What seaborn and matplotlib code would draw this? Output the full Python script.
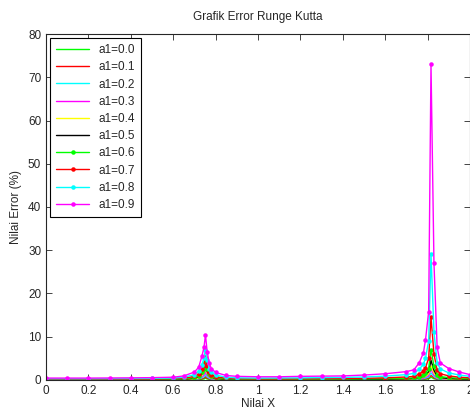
import numpy as np
import pandas as pd
import matplotlib
matplotlib.use("Agg")
import matplotlib.pyplot as plt
import seaborn as sns

# Nilai X (titik yang dibaca dari grafik)
x_vals = [0.0, 0.1, 0.2, 0.3, 0.4, 0.5, 0.6,
          0.65, 0.7, 0.72, 0.735, 0.745, 0.752, 0.76, 0.77, 0.78, 0.8, 0.85, 0.9,
          1.0, 1.1, 1.2, 1.3, 1.4, 1.5, 1.6, 1.7,
          1.735, 1.76, 1.78, 1.79, 1.805, 1.816, 1.83, 1.845, 1.86, 1.9, 1.95, 2.0]

# Error (%) untuk tiap a1
err_00 = [0.0, 0.0, 0.0, 0.0, 0.0, 0.0, 0.01,
          0.01, 0.03, 0.06, 0.12, 0.2, 0.4, 0.2, 0.1, 0.06, 0.03, 0.01, 0.01,
          0.0, 0.0, 0.0, 0.01, 0.01, 0.01, 0.02, 0.02,
          0.03, 0.05, 0.08, 0.12, 0.2, 0.6, 0.25, 0.09, 0.05, 0.03, 0.02, 0.02]
err_01 = [0.01, 0.01, 0.01, 0.01, 0.01, 0.01, 0.02,
          0.02, 0.06, 0.12, 0.25, 0.4, 0.7, 0.38, 0.2, 0.12, 0.05, 0.02, 0.02,
          0.01, 0.01, 0.01, 0.01, 0.02, 0.02, 0.03, 0.04,
          0.05, 0.1, 0.16, 0.25, 0.4, 1.0, 0.45, 0.16, 0.1, 0.05, 0.04, 0.03]
err_02 = [0.01, 0.01, 0.01, 0.01, 0.02, 0.02, 0.03,
          0.03, 0.1, 0.22, 0.45, 0.7, 1.2, 0.65, 0.35, 0.2, 0.09, 0.04, 0.03,
          0.02, 0.02, 0.02, 0.02, 0.03, 0.03, 0.05, 0.07,
          0.09, 0.16, 0.27, 0.4, 0.65, 1.6, 0.75, 0.27, 0.16, 0.09, 0.06, 0.05]
err_03 = [0.02, 0.02, 0.02, 0.02, 0.03, 0.03, 0.04,
          0.05, 0.17, 0.35, 0.7, 1.1, 1.8, 1.0, 0.55, 0.3, 0.14, 0.06, 0.04,
          0.03, 0.03, 0.03, 0.04, 0.04, 0.05, 0.07, 0.1,
          0.14, 0.25, 0.4, 0.6, 1.0, 2.4, 1.1, 0.4, 0.25, 0.14, 0.1, 0.07]
err_04 = [0.03, 0.03, 0.03, 0.03, 0.04, 0.05, 0.06,
          0.08, 0.25, 0.5, 1.0, 1.6, 2.6, 1.5, 0.8, 0.45, 0.2, 0.09, 0.06,
          0.04, 0.04, 0.05, 0.05, 0.06, 0.08, 0.1, 0.15,
          0.2, 0.35, 0.6, 0.8, 1.4, 3.2, 1.6, 0.6, 0.35, 0.2, 0.14, 0.1]
err_05 = [0.05, 0.05, 0.05, 0.05, 0.06, 0.07, 0.09,
          0.12, 0.35, 0.7, 1.3, 2.1, 3.4, 1.9, 1.0, 0.6, 0.3, 0.13, 0.09,
          0.06, 0.06, 0.07, 0.08, 0.09, 0.12, 0.15, 0.22,
          0.3, 0.5, 0.8, 1.1, 1.9, 4.5, 2.2, 0.8, 0.5, 0.3, 0.2, 0.15]
err_06 = [0.08, 0.08, 0.08, 0.09, 0.1, 0.12, 0.14,
          0.2, 0.5, 0.9, 1.7, 2.6, 4.2, 2.4, 1.3, 0.8, 0.45, 0.2, 0.14,
          0.1, 0.1, 0.12, 0.13, 0.15, 0.2, 0.25, 0.35,
          0.45, 0.7, 1.1, 1.5, 2.6, 7.0, 3.2, 1.2, 0.75, 0.5, 0.35, 0.25]
err_07 = [0.15, 0.15, 0.15, 0.16, 0.18, 0.2, 0.25,
          0.35, 0.8, 1.3, 2.4, 3.5, 5.3, 3.2, 1.8, 1.2, 0.7, 0.35, 0.25,
          0.2, 0.2, 0.22, 0.25, 0.28, 0.35, 0.45, 0.65,
          0.8, 1.3, 2.0, 2.8, 5.0, 14.5, 6.0, 2.2, 1.4, 0.9, 0.6, 0.45]
err_08 = [0.25, 0.25, 0.25, 0.27, 0.3, 0.33, 0.4,
          0.6, 1.2, 2.0, 3.5, 5.0, 7.0, 4.5, 2.6, 1.8, 1.1, 0.6, 0.45,
          0.4, 0.42, 0.45, 0.5, 0.55, 0.65, 0.85, 1.2,
          1.5, 2.4, 3.6, 5.0, 9.0, 29.0, 11.0, 4.0, 2.5, 1.6, 1.1, 0.8]
err_09 = [0.4, 0.4, 0.4, 0.42, 0.45, 0.5, 0.6,
          0.9, 1.8, 2.9, 5.4, 7.5, 10.4, 6.5, 3.8, 2.6, 1.7, 1.0, 0.8,
          0.7, 0.7, 0.8, 0.85, 0.9, 1.1, 1.4, 1.9,
          2.3, 3.9, 6.2, 9.2, 15.8, 73.0, 27.0, 7.5, 3.9, 2.6, 1.8, 1.2]

labels = ['a1=0.0', 'a1=0.1', 'a1=0.2', 'a1=0.3', 'a1=0.4',
          'a1=0.5', 'a1=0.6', 'a1=0.7', 'a1=0.8', 'a1=0.9']
series = [err_00, err_01, err_02, err_03, err_04,
          err_05, err_06, err_07, err_08, err_09]
colors = ['#00ff00', '#ff0000', '#00ffff', '#ff00ff', '#ffff00',
          '#000000', '#00ff00', '#ff0000', '#00ffff', '#ff00ff']
markers = [None] * 6 + ['.'] * 4

sns.set_style('ticks')
plt.rcParams['font.family'] = ['Liberation Sans', 'DejaVu Sans']

fig = plt.figure(figsize=(4.7, 4.16), dpi=100)
ax = fig.add_axes([0.098, 0.087, 0.902, 0.831])

for lab, ys, col, mk in zip(labels, series, colors, markers):
    sns.lineplot(x=x_vals, y=ys, ax=ax, color=col, marker=mk, markersize=6.5,
                 markeredgewidth=0, linewidth=1, label=lab)

ax.set_xlim(0, 2)
ax.set_ylim(0, 80)
ax.set_xticks(np.arange(0, 2.01, 0.2))
ax.set_xticklabels(['0', '0.2', '0.4', '0.6', '0.8', '1', '1.2', '1.4', '1.6', '1.8', '2'])
ax.set_yticks(np.arange(0, 81, 10))
ax.tick_params(direction='in', top=True, right=True, labelsize=8.5, length=4, width=0.6)
for s in ax.spines.values():
    s.set_linewidth(0.8)

ax.set_title('Grafik Error Runge Kutta', fontsize=8.5, pad=10)
ax.set_xlabel('Nilai X', fontsize=8.5, labelpad=1)
ax.set_ylabel('Nilai Error (%)', fontsize=8.5, labelpad=4)

leg = ax.legend(loc='upper left', fontsize=8.5, frameon=True, fancybox=False,
                edgecolor='black', framealpha=1, handlelength=2.8,
                labelspacing=0.44, borderaxespad=0.35, borderpad=0.5)
leg.get_frame().set_linewidth(0.8)

plt.savefig('out.png', dpi=100)
